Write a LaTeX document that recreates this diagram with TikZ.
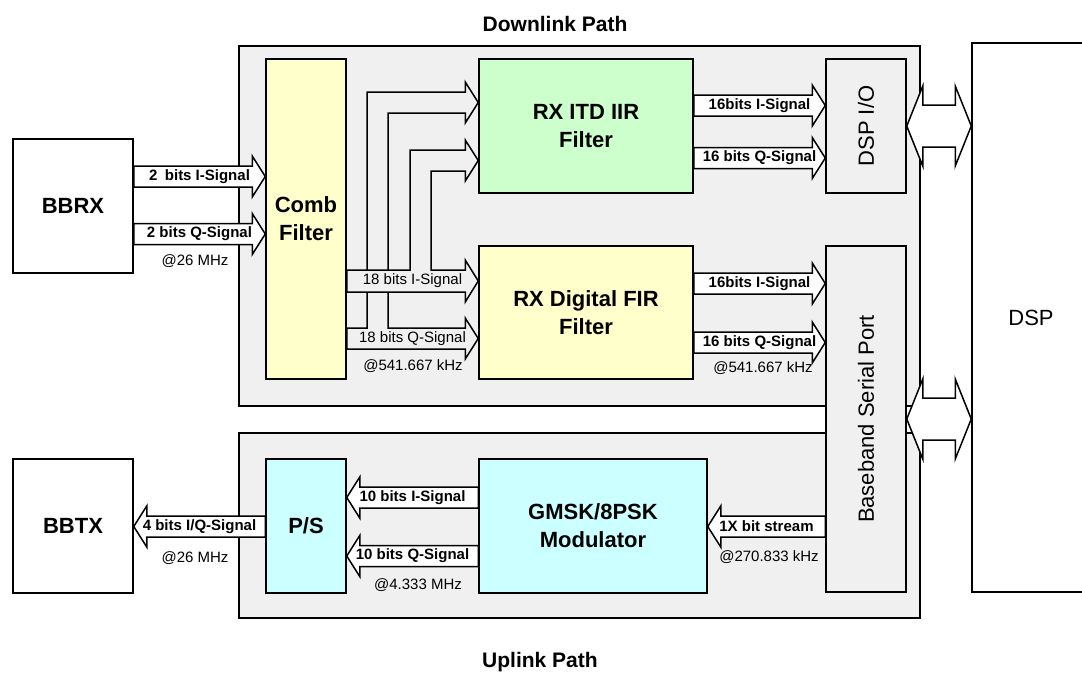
\documentclass[tikz,border=0pt]{standalone}
\usepackage{fontspec}
\setmainfont{Liberation Sans}
\usetikzlibrary{calc}

\definecolor{panelgray}{HTML}{F0F0F0}
\definecolor{combyellow}{HTML}{FFFFCC}
\definecolor{iirgreen}{HTML}{CCFFCC}
\definecolor{modcyan}{HTML}{CCFFFF}

% wide arrow to the right: [label style]{label name}{from}{to}{centre y}{label}
\newcommand{\fatR}[6][sig]{%
  \draw[fat] let \p1=(#3.east), \p2=(#4.west) in
    (\x1,#5-10.5) -- (\x2-13,#5-10.5) -- (\x2-13,#5-20.5) -- (\x2,#5)
    -- (\x2-13,#5+20.5) -- (\x2-13,#5+10.5) -- (\x1,#5+10.5) -- cycle
    node[#1] (#2) at ({(\x1+\x2)/2},#5) {#6};}
% wide arrow to the left
\newcommand{\fatL}[6][sig]{%
  \draw[fat] let \p1=(#3.west), \p2=(#4.east) in
    (\x1,#5-10.5) -- (\x2+13,#5-10.5) -- (\x2+13,#5-20.5) -- (\x2,#5)
    -- (\x2+13,#5+20.5) -- (\x2+13,#5+10.5) -- (\x1,#5+10.5) -- cycle
    node[#1] (#2) at ({(\x1+\x2)/2},#5) {#6};}
% wide two-way arrow
\newcommand{\fatLR}[2]{%
  \draw[fat] let \p1=(#1.east), \p2=(#2.west) in
    (\x1,\y1) -- (\x1+16,\y1+40) -- (\x1+16,\y1+21) -- (\x2-16,\y1+21)
    -- (\x2-16,\y1+40) -- (\x2,\y1) -- (\x2-16,\y1-40) -- (\x2-16,\y1-21)
    -- (\x1+16,\y1-21) -- (\x1+16,\y1-40) -- cycle;}

\begin{document}
\begin{tikzpicture}[x=1pt, y=-1pt,
  panel/.style={draw, line width=1.5pt, fill=panelgray},
  block/.style={draw, line width=1.5pt, align=center,
                font=\fontsize{22}{28}\selectfont\bfseries},
  plain/.style={draw, line width=1.5pt, fill=white,
                font=\fontsize{22}{28}\selectfont},
  fat/.style={draw, line width=1.5pt, fill=white, line join=miter},
  sig/.style={font=\fontsize{15}{18}\selectfont\bfseries, inner sep=0pt},
  sigthin/.style={font=\fontsize{15}{18}\selectfont, inner sep=0pt},
  rate/.style={font=\fontsize{15}{18}\selectfont, inner sep=0pt},
  title/.style={font=\fontsize{21}{26}\selectfont\bfseries}
]
  \useasboundingbox (0,0) rectangle (1082,673);

  % the two paths
  \node[panel, minimum width=681pt, minimum height=360pt] (down) at (579.5,226) {};
  \node[panel, minimum width=681pt, minimum height=185pt] (up) at (579.5,525.5) {};
  \node[title] (downtitle) at (555,24) {Downlink Path};
  \node[title] (uptitle) at (540,662) {Uplink Path};

  % blocks
  \node[block, fill=white, minimum width=120pt, minimum height=134pt] (bbrx) at (73,206) {BBRX};
  \node[block, fill=white, minimum width=120pt, minimum height=134pt] (bbtx) at (73,526) {BBTX};
  \node[block, fill=combyellow, minimum width=80pt, minimum height=320pt] (comb) at (306,219) {Comb\\Filter};
  \node[block, fill=iirgreen, minimum width=214pt, minimum height=134pt] (itd) at (586,126) {RX ITD IIR\\Filter};
  \node[block, fill=combyellow, minimum width=214pt, minimum height=133pt] (fir) at (586,312.5) {RX Digital FIR\\Filter};
  \node[block, fill=modcyan, minimum width=80pt, minimum height=134pt] (ps) at (306,526) {P/S};
  \node[block, fill=modcyan, minimum width=228pt, minimum height=134pt] (gmsk) at (593,526) {GMSK/8PSK\\Modulator};
  \node[plain, fill=panelgray, minimum width=80pt, minimum height=134pt] (dspio) at (866,126) {\rotatebox{90}{DSP I/O}};
  \node[plain, fill=panelgray, minimum width=80pt, minimum height=346pt] (bsp) at (866,419) {\rotatebox{90}{Baseband Serial Port}};
  \node[plain, minimum width=118pt, minimum height=549pt] (dsp) at (1031,317.5) {DSP};

  % downlink
  \fatR{li1}{bbrx}{comb}{176.5}{2\enspace bits I-Signal}
  \fatR{lq1}{bbrx}{comb}{234}{2 bits Q-Signal}
  \node[rate] (r1) at (195,261) {@26 MHz};

  % 18 bits Q, branching up to the IIR filter
  \draw[fat, fill=panelgray] let \p1=(comb.east), \p2=(fir.west), \p3=(itd.west) in
    (\x1,328) -- (367,328) -- (367,92) -- (\x3-13,92) -- (\x3-13,82) -- (\x3,102.5)
    -- (\x3-13,123) -- (\x3-13,113) -- (388,113) -- (388,328) -- (\x2-13,328)
    -- (\x2-13,318) -- (\x2,338.5) -- (\x2-13,359) -- (\x2-13,349) -- (\x1,349) -- cycle;
  % 18 bits I, branching up to the IIR filter
  \draw[fat, fill=panelgray] let \p1=(comb.east), \p2=(fir.west), \p3=(itd.west) in
    (\x1,270) -- (410,270) -- (410,150) -- (\x3-13,150) -- (\x3-13,140) -- (\x3,160.5)
    -- (\x3-13,181) -- (\x3-13,171) -- (431,171) -- (431,270) -- (\x2-13,270)
    -- (\x2-13,260) -- (\x2,281) -- (\x2-13,302) -- (\x2-13,292) -- (\x1,292) -- cycle;
  \node[sigthin] (li2) at (412.5,281) {18 bits I-Signal};
  \node[sigthin] (lq2) at (412.5,338.5) {18 bits Q-Signal};
  \node[rate] (r2) at (413,366) {@541.667 kHz};

  \fatR{li3}{itd}{dspio}{105.5}{16bits I-Signal}
  \fatR{lq3}{itd}{dspio}{158}{16 bits Q-Signal}
  \fatR{li4}{fir}{bsp}{283.5}{16bits I-Signal}
  \fatR{lq4}{fir}{bsp}{342.5}{16 bits Q-Signal}
  \node[rate] (r3) at (763,368) {@541.667 kHz};

  \fatLR{dspio}{dsp}
  \fatLR{bsp}{dsp}

  % uplink
  \fatL{lbs}{bsp}{gmsk}{526.5}{1X bit stream}
  \node[rate] (r4) at (769,557) {@270.833 kHz};
  \fatL{li5}{gmsk}{ps}{497.5}{10 bits I-Signal}
  \fatL{lq5}{gmsk}{ps}{556}{10 bits Q-Signal}
  \node[rate] (r5) at (418,585) {@4.333 MHz};
  \fatL{liq}{ps}{bbtx}{526.5}{4 bits I/Q-Signal}
  \node[rate] (r6) at (195,558) {@26 MHz};
\end{tikzpicture}
\end{document}
